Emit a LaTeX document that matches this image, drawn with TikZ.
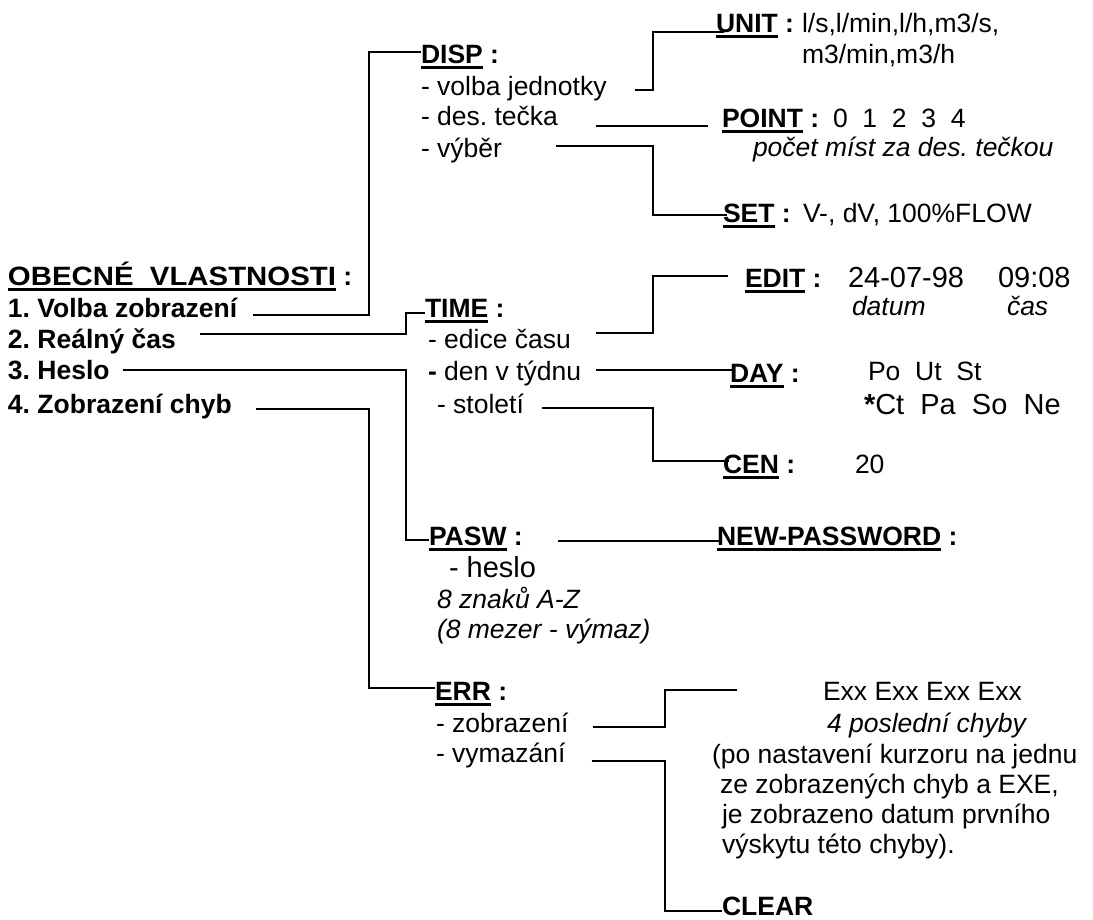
\documentclass[tikz,border=0pt]{standalone}
\usepackage{fontspec}
\setmainfont{Liberation Sans}
\usetikzlibrary{calc}
\newsavebox\myulbox
\newcommand\myul[1]{\sbox\myulbox{#1}\rlap{\vrule width\wd\myulbox height -2.5pt depth 5.5pt}\usebox\myulbox}
\frenchspacing
\begin{document}
\begin{tikzpicture}[x=1pt,y=-1pt,
  txt/.style={anchor=base west, inner sep=0pt, outer sep=0pt, font=\fontsize{26.5pt}{30pt}\selectfont\frenchspacing},
  big/.style={txt, font=\fontsize{29pt}{33pt}\selectfont\frenchspacing},
  lbl/.style={txt, font=\fontsize{26.5pt}{30pt}\selectfont\bfseries\frenchspacing},
  it/.style={txt, font=\fontsize{26.5pt}{30pt}\selectfont\itshape\frenchspacing},
  conn/.style={line width=2.2pt, line join=miter}]
\useasboundingbox (0,0) rectangle (1093,919);

% left column
\node[lbl] (title) at (8,285) {\myul{\resizebox{328pt}{\height}{OBECNÉ\ \ VLASTNOSTI}} :};
\node[lbl] (i1) at (8,317) {1. Volba zobrazení};
\node[lbl] (i2) at (8,348) {2. Reálný čas};
\node[lbl] (i3) at (8,379) {3. Heslo};
\node[lbl] (i4) at (8,413) {4. Zobrazení chyb};

% DISP
\node[lbl] (disp) at (421,63) {\myul{DISP} :};
\node[txt] (d1) at (421,95) {- volba jednotky};
\node[txt] (d2) at (421,125) {- des. tečka};
\node[txt] (d3) at (421,157) {- výběr};

\node[lbl] (unit) at (716,32) {\myul{UNIT} :};
\node[txt] (unitv) at (802,32) {l/s,l/min,l/h,m3/s,};
\node[txt] (unitw) at (802,63) {m3/min,m3/h};

\node[lbl] (point) at (722,127) {\myul{POINT} :};
\node[txt] (pointv) at (833,127) {0\ \ 1\ \ 2\ \ 3\ \ 4};
\node[it] (pointi) at (753,156) {počet míst za des. tečkou};

\node[lbl] (set) at (723,222) {\myul{SET} :};
\node[txt] (setv) at (803,222) {V-, dV, 100\%FLOW};

% TIME
\node[lbl] (time) at (425,317) {\myul{TIME} :};
\node[txt] (t1) at (428,348) {- edice času};
\node[txt] (t2) at (428,380) {{\bfseries -} den v týdnu};
\node[txt] (t3) at (437,413) {- století};

\node[lbl] (edit) at (745,287) {\myul{EDIT} :};
\node[big] (editd) at (848,287) {24-07-98};
\node[big] (editt) at (998,287) {09:08};
\node[it] (datum) at (852,315) {datum};
\node[it] (cas) at (1007,315) {čas};

\node[lbl] (day) at (730,382) {\myul{DAY} :};
\node[txt] (dayv) at (868,380) {Po\ \ Ut\ \ St};
\node[big] (dayw) at (864,414) {{\bfseries *}Ct\ \ Pa\ \ So\ \ Ne};

\node[lbl] (cen) at (723,473) {\myul{CEN} :};
\node[txt] (cenv) at (855,473) {20};

% PASW
\node[lbl] (pasw) at (429,545) {\myul{PASW} :};
\node[big] (p1) at (449,577) {- heslo};
\node[it] (p2) at (437,608) {8 znaků A-Z};
\node[it] (p3) at (437,638) {(8 mezer - výmaz)};
\node[lbl] (new) at (717,545) {\myul{NEW-PASSWORD} :};

% ERR
\node[lbl] (err) at (435,700) {\myul{ERR} :};
\node[txt] (e1) at (436,732) {- zobrazení};
\node[txt] (e2) at (436,762) {- vymazání};
\node[txt] (ex) at (823,700) {Exx Exx Exx Exx};
\node[it] (exi) at (827,732) {4 poslední chyby};
\node[txt] (ex2) at (712,763) {(po nastavení kurzoru na jednu};
\node[txt] (ex3) at (720,793) {ze zobrazených chyb a EXE,};
\node[txt] (ex4) at (722,823) {je zobrazeno datum prvního};
\node[txt] (ex5) at (722,853) {výskytu této chyby).};
\node[lbl] (clear) at (722,915) {CLEAR};
\coordinate (efree) at (737,690);

% connectors
\draw[conn] ($(i1.base east)+(16,-2)$) -| (369,52) -- ($(disp.base west)+(0,-11)$);
\draw[conn] ($(i2.base east)+(24,-14)$) -| (406,313) -- ($(time.base west)+(0,-4)$);
\draw[conn] ($(i3.base east)+(13,-9)$) -| (406,540) -- ($(pasw.base west)+(0,-5)$);
\draw[conn] ($(i4.base east)+(24,-4)$) -| (369,688) -- ($(err.base west)+(0,-12)$);

\draw[conn] ($(d1.base east)+(28,-5)$) -| (653,32) -- ($(unit.base west)+(8,0)$);
\draw[conn] ($(d2.base east)+(38,1)$) -- ($(point.base west)+(-14,-1)$);
\draw[conn] ($(d3.base east)+(54,-11)$) -| (653,215) -- ($(set.base west)+(4,-7)$);

\draw[conn] ($(t1.base east)+(25,-15)$) -| (653,276) -- ($(edit.base west)+(-17,-11)$);
\draw[conn] ($(t2.base east)+(15,-10)$) -- ($(day.base west)+(5,-12)$);
\draw[conn] ($(t3.base east)+(18,-5)$) -| (653,461) -- ($(cen.base west)+(6,-12)$);

\draw[conn] ($(pasw.base east)+(35,-4)$) -- ($(new.base west)+(3,-4)$);

\draw[conn] ($(e1.base east)+(24,-5)$) -| (665,690) -- (efree);
\draw[conn] ($(e2.base east)+(26,-1)$) -| (665,911) -- ($(clear.base west)+(0,-4)$);
\end{tikzpicture}
\end{document}
